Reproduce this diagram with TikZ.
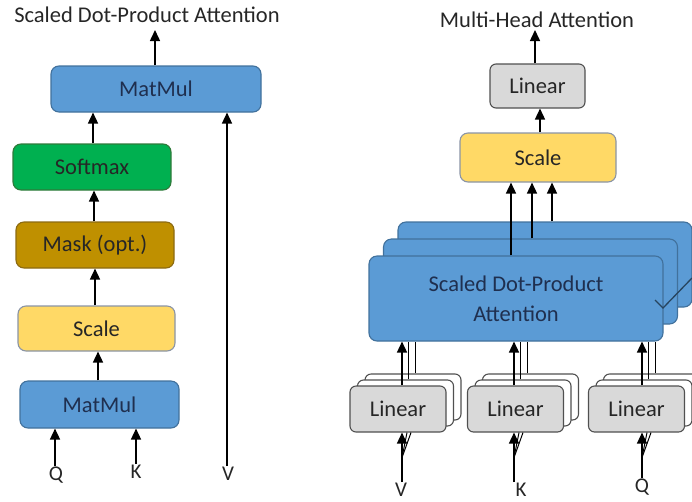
\documentclass[tikz,border=0pt]{standalone}
\usepackage{fontspec}
\setmainfont{Carlito}
\usetikzlibrary{arrows.meta,calc}

\definecolor{mmblue}{HTML}{5B9BD5}
\definecolor{mmborder}{HTML}{41719C}
\definecolor{smgreen}{HTML}{00B050}
\definecolor{smborder}{HTML}{2F7A3A}
\definecolor{mkgold}{HTML}{BF9000}
\definecolor{mkborder}{HTML}{8C6A12}
\definecolor{scyellow}{HTML}{FFD966}
\definecolor{scborder}{HTML}{8A94A6}
\definecolor{lngray}{HTML}{D9D9D9}
\definecolor{lnborder}{HTML}{505050}
\definecolor{txtdark}{HTML}{262626}
\definecolor{txtblue}{HTML}{1F2F4F}

\tikzset{
  box/.style={rectangle, rounded corners=8pt, inner sep=0pt, line width=1.1pt,
    font=\fontsize{22.5}{27}\selectfont, text=txtdark},
  bluebox/.style={box, fill=mmblue, draw=mmborder, text=txtblue},
  greenbox/.style={box, fill=smgreen, draw=smborder},
  goldbox/.style={box, fill=mkgold, draw=mkborder},
  yellowbox/.style={box, fill=scyellow, draw=scborder},
  graybox/.style={box, fill=lngray, draw=lnborder, rounded corners=6pt},
  layerbox/.style={graybox, fill=white},
  title/.style={font=\fontsize{22.5}{27}\selectfont, text=txtdark, inner sep=0pt},
  inlabel/.style={font=\fontsize{21}{25}\selectfont, text=txtdark, inner sep=1pt},
  arr/.style={line width=1.5pt, -{Triangle[width=10pt,length=11pt]}},
  thin/.style={line width=1pt},
}

\begin{document}
\begin{tikzpicture}[x=1pt,y=-1pt]
\useasboundingbox (0,0) rectangle (692,501);

% ---------- Scaled Dot-Product Attention ----------
\node[title] (tl) at (147,15) {Scaled Dot-Product Attention};
\node[bluebox, minimum width=210pt, minimum height=46pt] (mmtop) at (156,89) {MatMul};
\node[greenbox, minimum width=158pt, minimum height=46pt] (soft) at (92,167) {Softmax};
\node[goldbox, minimum width=158pt, minimum height=46pt] (mask) at (95,245) {Mask (opt.)};
\node[yellowbox, minimum width=157pt, minimum height=45pt] (scl) at (96.5,328.5) {Scale};
\node[bluebox, minimum width=159pt, minimum height=47pt] (mmbot) at (99.5,404.5) {MatMul};

\node[inlabel] (q1) at (56,475) {Q};
\node[inlabel] (k1) at (136,472) {K};
\node[inlabel] (v1) at (228,474) {V};
\coordinate (outl) at (155,30);

\draw[arr] (mmtop.north -| outl) -- (outl);
\draw[arr] (soft.north -| 93,0) -- (mmtop.south -| 93,0);
\draw[arr] (mask.north -| 94,0) -- (soft.south -| 94,0);
\draw[arr] (scl.north -| 95,0) -- (mask.south -| 95,0);
\draw[arr] (mmbot.north -| 98,0) -- (scl.south -| 98,0);
\draw[arr] (q1.north -| 55,0) -- (mmbot.south -| 55,0);
\draw[arr] (k1.north -| 136,0) -- (mmbot.south -| 136,0);
\draw[arr] (v1.north -| 227,0) -- (mmtop.south -| 227,0);

% ---------- Multi-Head Attention ----------
\node[title] (tr) at (537,20) {Multi-Head Attention};
\node[graybox, minimum width=95pt, minimum height=44pt] (lintop) at (537.5,86) {Linear};
\node[yellowbox, minimum width=156pt, minimum height=49pt] (sclr) at (538,157.5) {Scale};
\coordinate (outr) at (535,30);

% stacked attention heads
\node[bluebox, minimum width=294pt, minimum height=85pt] (sdpc) at (545,264.5) {};
\node[bluebox, minimum width=294pt, minimum height=85pt] (sdpb) at (530.5,281.5) {};
\node[bluebox, minimum width=294pt, minimum height=85pt, align=center,
      font=\fontsize{22.5}{30}\selectfont] (sdpa) at (516,298.5) {Scaled Dot-Product\\Attention};

% stacked linear projections for V, K, Q
\foreach \nm/\cx in {lv/398, lk/515.5, lq/636.5} {
  \node[layerbox, minimum width=96pt, minimum height=46pt] (\nm c) at (\cx+15,397) {};
  \node[layerbox, minimum width=96pt, minimum height=46pt] (\nm b) at (\cx+7.5,403) {};
  \node[graybox, minimum width=96pt, minimum height=46pt] (\nm a) at (\cx,409) {Linear};
}

\node[inlabel] (v2) at (401,490) {V};
\node[inlabel] (k2) at (521,490) {K};
\node[inlabel] (q2) at (642,487) {Q};

\draw[arr] (lintop.north -| outr) -- (outr);
\draw[arr] (sclr.north -| 540,0) -- (lintop.south -| 540,0);

% head outputs into the scale block
\draw[arr] (sdpa.north -| 511,0) -- (sclr.south -| 511,0);
\draw[arr] (sdpb.north -| 532,0) -- (sclr.south -| 532,0);
\draw[arr] (sdpc.north -| 552,0) -- (sclr.south -| 552,0);

% projections into the heads
\foreach \nm/\ax in {lv/402, lk/514, lq/642} {
  \draw[arr] (\nm a.north -| \ax,0) -- (sdpa.south -| \ax,0);
  \draw[thin] (\nm b.north -| \ax+6.5,0) -- (sdpa.south -| \ax+6.5,0);
  \draw[thin] (\nm c.north -| \ax+13,0) -- (sdpa.south -| \ax+13,0);
}

% inputs into the projections
\foreach \lab/\nm/\ax in {v2/lv/402, k2/lk/514, q2/lq/642} {
  \coordinate (\lab s) at ($(\nm a.south -| \ax,0)+(0,25)$);
  \draw[arr] (\lab.north -| \ax,0) -- (\nm a.south -| \ax,0);
  \draw[thin] (\lab s) -- (\nm a.south -| \ax+5,0);
  \draw[thin] (\lab s) -- (\nm a.south -| \ax+9,0);
}

% leftover stroke at the right of the head stack
\draw[line width=1.3pt, draw=mmborder!60!black] (655,300) -- (663,308) -- (692,278);
\end{tikzpicture}
\end{document}
